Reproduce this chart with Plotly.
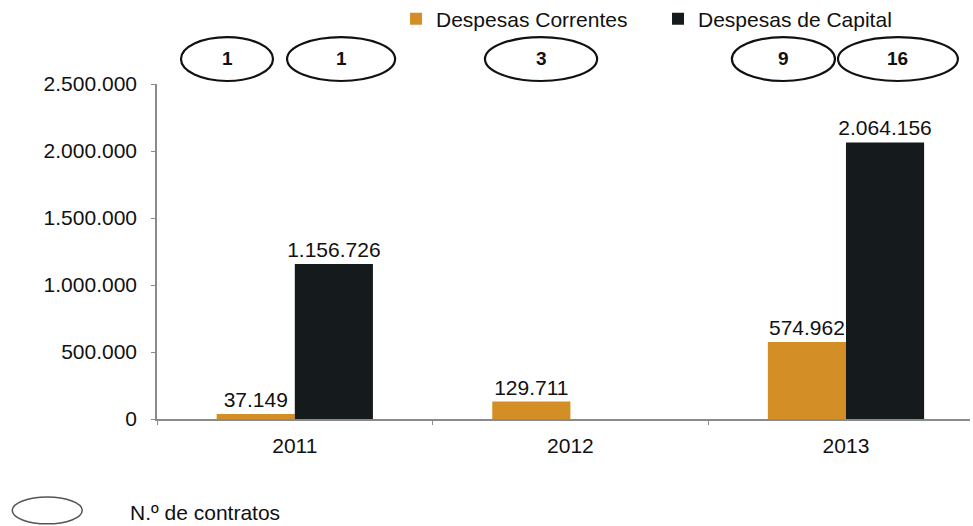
import plotly.graph_objects as go

# Expenditure by year (euros)
anos = ["2011", "2012", "2013"]
despesas_correntes = [37149, 129711, 574962]
despesas_capital = [1156726, 0, 2064156]

# Number of contracts shown in the ellipses above each year
contratos_correntes = [1, 3, 9]
contratos_capital = [1, None, 16]

y_ticks = [0, 500000, 1000000, 1500000, 2000000, 2500000]

COR_CORRENTES = "#D38F26"
COR_CAPITAL = "#151B1D"
FONT = "Liberation Sans, Arial, sans-serif"
FS = 21


def fmt(v):
    return f"{v:,}".replace(",", ".")


fig = go.Figure()
fig.add_trace(go.Bar(
    x=anos, y=despesas_correntes, name="Despesas Correntes",
    marker=dict(color=COR_CORRENTES, line=dict(width=0)),
    text=[fmt(v) for v in despesas_correntes], textposition="outside",
    constraintext="none",
    textfont=dict(size=FS, color="#111"), cliponaxis=False,
))
fig.add_trace(go.Bar(
    x=anos, y=despesas_capital, name="Despesas de Capital",
    marker=dict(color=COR_CAPITAL, line=dict(width=0)),
    text=[fmt(v) if v else "" for v in despesas_capital], textposition="outside",
    constraintext="none",
    textfont=dict(size=FS, color="#111"), cliponaxis=False,
))

# Contract-count ellipses (x in category units relative to each year)
ellipses = [
    (0, -0.413, -0.079, contratos_correntes[0]),
    (0, -0.028, 0.364, contratos_capital[0]),
    (1, -0.310, 0.097, contratos_correntes[1]),
    (2, -0.414, -0.040, contratos_correntes[2]),
    (2, -0.029, 0.406, contratos_capital[2]),
]
shapes = []
annotations = []
for idx, a, b, n in ellipses:
    shapes.append(dict(type="circle", xref="x", yref="paper",
                       x0=idx + a, x1=idx + b, y0=1.009, y1=1.140,
                       line=dict(color="#111", width=2.2)))
    annotations.append(dict(x=idx + (a + b) / 2, y=1.075, xref="x", yref="paper",
                            xanchor="center", yanchor="middle",
                            text=f"<b>{n}</b>", showarrow=False,
                            font=dict(size=19, color="#111", family=FONT)))

# Key for the ellipses
shapes.append(dict(type="circle", xref="paper", yref="paper",
                   x0=-0.178, x1=-0.092, y0=-0.233, y1=-0.313,
                   line=dict(color="#555", width=1.5)))
annotations.append(dict(x=-0.036, y=-0.278, xref="paper", yref="paper",
                        xanchor="left", yanchor="middle",
                        text="N.º de contratos", showarrow=False,
                        font=dict(size=FS, color="#111", family=FONT)))

fig.update_layout(
    width=973, height=526,
    margin=dict(l=157, r=3, t=84, b=107, autoexpand=False),
    paper_bgcolor="white", plot_bgcolor="white",
    font=dict(family=FONT, size=FS, color="#111"),
    separators=",.",
    barmode="group", bargap=0.433, bargroupgap=0,
    showlegend=True,
    legend=dict(orientation="h", x=0.294, y=1.194, xanchor="left", yanchor="middle",
                font=dict(size=FS), entrywidth=217, entrywidthmode="pixels",
                itemwidth=30, bgcolor="rgba(0,0,0,0)"),
    shapes=shapes, annotations=annotations,
    xaxis=dict(showline=True, linecolor="#8a8a8a", linewidth=1.5,
               ticks="outside", tickson="boundaries", ticklen=4, tickcolor="#8a8a8a",
               ticklabelstandoff=7,
               tickfont=dict(size=FS), showgrid=False, range=[-0.5, 2.45]),
    yaxis=dict(range=[0, 2500000], tickvals=y_ticks,
               ticktext=[fmt(v) for v in y_ticks],
               showline=True, linecolor="#8a8a8a", linewidth=1.5,
               ticks="outside", ticklen=4, tickcolor="#8a8a8a",
               ticklabelstandoff=10,
               tickfont=dict(size=FS), showgrid=False, zeroline=False),
)

fig.write_html("out.html")
